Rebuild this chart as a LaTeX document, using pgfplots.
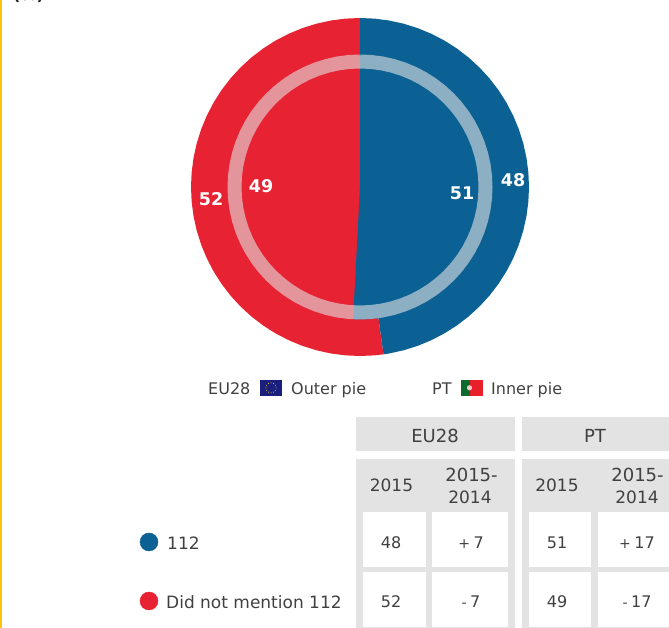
\documentclass[border=0pt]{standalone}
\usepackage{fontspec}
\setmainfont{DejaVu Sans}
\usepackage{pgfplots}
\pgfplotsset{compat=1.18}
\definecolor{pieblue}{HTML}{0B6193}
\definecolor{piered}{HTML}{E62233}
\definecolor{cellgrey}{HTML}{E3E3E3}
\definecolor{txt}{HTML}{404040}
\definecolor{edge}{HTML}{FFC20E}
\definecolor{euflag}{HTML}{1A1F7E}
\definecolor{ptgreen}{HTML}{0B6A2E}
\definecolor{ptred}{HTML}{E8202A}
\newcommand{\fs}[1]{\fontsize{#1}{#1}\selectfont}
\newcommand{\sgn}[2]{{\fs{14}#1}\hspace{#2}}
\begin{document}
\begin{tikzpicture}
\path[use as bounding box,clip] (0,0) rectangle (669pt,628pt);
\begin{axis}[
    at={(0,0)}, anchor=south west,
    scale only axis, width=669pt, height=628pt,
    xmin=-360, xmax=309, ymin=-441, ymax=187,
    hide axis, clip=false,
]
% outer pie: EU28, 48 / 52
\addplot[draw=none, fill=piered, data cs=polar] coordinates {
    (0,0) (-82,169) (-85,169) (-90,169) (-95,169) (-100,169) (-105,169) (-110,169) (-115,169)
    (-120,169) (-125,169) (-130,169) (-135,169) (-140,169) (-145,169) (-150,169) (-155,169)
    (-160,169) (-165,169) (-170,169) (-175,169) (-180,169) (-185,169) (-190,169) (-195,169)
    (-200,169) (-205,169) (-210,169) (-215,169) (-220,169) (-225,169) (-230,169) (-235,169)
    (-240,169) (-245,169) (-250,169) (-255,169) (-260,169) (-265,169) (-270,169) (0,0)
};
\addplot[draw=none, fill=pieblue, data cs=polar] coordinates {
    (0,0) (90,169) (85,169) (80,169) (75,169) (70,169) (65,169) (60,169) (55,169) (50,169)
    (45,169) (40,169) (35,169) (30,169) (25,169) (20,169) (15,169) (10,169) (5,169) (0,169)
    (-5,169) (-10,169) (-15,169) (-20,169) (-25,169) (-30,169) (-35,169) (-40,169) (-45,169)
    (-50,169) (-55,169) (-60,169) (-65,169) (-70,169) (-75,169) (-80,169) (-82,169) (0,0)
};
% inner pie: PT, 51 / 49, reaches the outer edge of the ring
\addplot[draw=none, fill=piered, data cs=polar] coordinates {
    (0,0) (-93,132.5) (-95,132.5) (-100,132.5) (-105,132.5) (-110,132.5) (-115,132.5)
    (-120,132.5) (-125,132.5) (-130,132.5) (-135,132.5) (-140,132.5) (-145,132.5) (-150,132.5) (-155,132.5)
    (-160,132.5) (-165,132.5) (-170,132.5) (-175,132.5) (-180,132.5) (-185,132.5) (-190,132.5) (-195,132.5)
    (-200,132.5) (-205,132.5) (-210,132.5) (-215,132.5) (-220,132.5) (-225,132.5) (-230,132.5) (-235,132.5)
    (-240,132.5) (-245,132.5) (-250,132.5) (-255,132.5) (-260,132.5) (-265,132.5) (-270,132.5) (0,0)
};
\addplot[draw=none, fill=pieblue, data cs=polar] coordinates {
    (0,0) (90,132.5) (85,132.5) (80,132.5) (75,132.5) (70,132.5) (65,132.5) (60,132.5) (55,132.5) (50,132.5)
    (45,132.5) (40,132.5) (35,132.5) (30,132.5) (25,132.5) (20,132.5) (15,132.5) (10,132.5) (5,132.5) (0,132.5)
    (-5,132.5) (-10,132.5) (-15,132.5) (-20,132.5) (-25,132.5) (-30,132.5) (-35,132.5) (-40,132.5) (-45,132.5)
    (-50,132.5) (-55,132.5) (-60,132.5) (-65,132.5) (-70,132.5) (-75,132.5) (-80,132.5) (-85,132.5) (-90,132.5)
    (-93,132.5) (0,0)
};
% pale ring
\addplot[color=cellgrey, opacity=0.6, line width=14pt, data cs=polar] coordinates {
    (90,125.5) (85,125.5) (80,125.5) (75,125.5) (70,125.5) (65,125.5) (60,125.5) (55,125.5)
    (50,125.5) (45,125.5) (40,125.5) (35,125.5) (30,125.5) (25,125.5) (20,125.5) (15,125.5)
    (10,125.5) (5,125.5) (0,125.5) (-5,125.5) (-10,125.5) (-15,125.5) (-20,125.5) (-25,125.5)
    (-30,125.5) (-35,125.5) (-40,125.5) (-45,125.5) (-50,125.5) (-55,125.5) (-60,125.5)
    (-65,125.5) (-70,125.5) (-75,125.5) (-80,125.5) (-85,125.5) (-90,125.5) (-95,125.5)
    (-100,125.5) (-105,125.5) (-110,125.5) (-115,125.5) (-120,125.5) (-125,125.5) (-130,125.5)
    (-135,125.5) (-140,125.5) (-145,125.5) (-150,125.5) (-155,125.5) (-160,125.5) (-165,125.5)
    (-170,125.5) (-175,125.5) (-180,125.5) (-185,125.5) (-190,125.5) (-195,125.5) (-200,125.5)
    (-205,125.5) (-210,125.5) (-215,125.5) (-220,125.5) (-225,125.5) (-230,125.5) (-235,125.5)
    (-240,125.5) (-245,125.5) (-250,125.5) (-255,125.5) (-260,125.5) (-265,125.5) (-270,125.5)
};
% legend dots
\addplot[only marks, mark=*, mark size=9pt, mark options={draw=pieblue, fill=pieblue}] coordinates {(-211,-355)};
\addplot[only marks, mark=*, mark size=9pt, mark options={draw=piered, fill=piered}] coordinates {(-211,-414)};
% values on the pies
\node[white, font=\fs{17.5}\bfseries, inner sep=0pt] at (axis cs:-149,-12) {52};
\node[white, font=\fs{17.5}\bfseries, inner sep=0pt] at (axis cs:-99,1) {49};
\node[white, font=\fs{17.5}\bfseries, inner sep=0pt] at (axis cs:102,-6) {51};
\node[white, font=\fs{17.5}\bfseries, inner sep=0pt] at (axis cs:153,7) {48};
\end{axis}
% everything below in pixels of the page, y downwards
\begin{scope}[x=1pt, y=-1pt, yshift=628pt,
    every node/.style={text=txt, inner sep=0pt, font=\fs{16}}]
\fill[edge] (0,0) rectangle (1.6,628);
\node[anchor=base west, text=black!85, font=\fs{16}\bfseries] at (13,1) {(\%)};
% pie key
\node[anchor=base west] at (208,395) {EU28};
\node[anchor=base west] at (291,395) {Outer pie};
\node[anchor=base west] at (432,395) {PT};
\node[anchor=base west] at (491,395) {Inner pie};
\fill[euflag] (260,380) rectangle (282,395.7);
\foreach \a in {0,30,...,330} \fill[yellow!80!orange] (271,387.8) ++(\a:5) circle (0.5);
\fill[ptgreen] (460.7,380) rectangle (469.5,395.7);
\fill[ptred] (469.5,380) rectangle (482.7,395.7);
\fill[white!75!ptred] (469.5,387.8) circle (2.6);
% table
\fill[cellgrey] (355.5,417) rectangle (515,451);
\fill[cellgrey] (522,417) rectangle (669,451);
\fill[cellgrey] (355.5,459) rectangle (515,628);
\fill[cellgrey] (522,459) rectangle (669,628);
\fill[white] (363,512.5) rectangle (425.5,567);
\fill[white] (432,512.5) rectangle (508,567);
\fill[white] (529,512.5) rectangle (591,567);
\fill[white] (598,512.5) rectangle (669,567);
\fill[white] (363,572) rectangle (425.5,627);
\fill[white] (432,572) rectangle (508,627);
\fill[white] (529,572) rectangle (591,627);
\fill[white] (598,572) rectangle (669,627);
\node[font=\fs{18}] at (435,436) {EU28};
\node[font=\fs{18}] at (595,436) {PT};
\node[font=\fs{17}] at (391.5,485) {2015};
\node[font=\fs{18}] at (471.5,475) {2015-};
\node[font=\fs{17}] at (470,497.5) {2014};
\node[font=\fs{17}] at (557,485) {2015};
\node[font=\fs{18}] at (637.5,475) {2015-};
\node[font=\fs{17}] at (637,497.5) {2014};
\node at (391,543) {48};
\node at (471,543) {\sgn{+}{3.5pt}7};
\node at (557,543) {51};
\node at (637,543) {\sgn{+}{3.5pt}17};
\node at (391,602) {52};
\node at (471,602) {\sgn{-}{3.5pt}7};
\node at (557,602) {49};
\node at (637,602) {\sgn{-}{3.5pt}17};
\node[anchor=west, font=\fs{17}] at (167,543) {112};
\node[anchor=west, font=\fs{17}] at (166,602) {Did not mention 112};
\end{scope}
\end{tikzpicture}
\end{document}
